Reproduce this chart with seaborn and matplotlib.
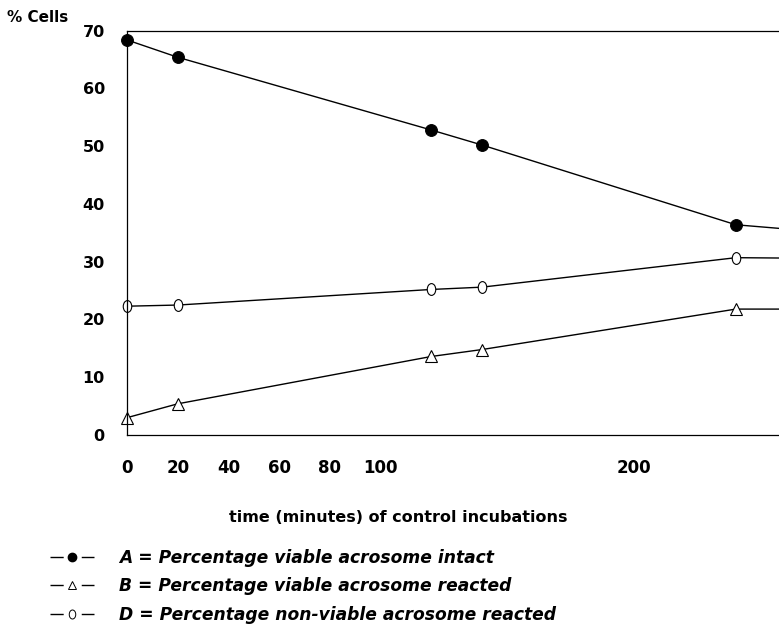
import numpy as np
import pandas as pd
import matplotlib
matplotlib.use("Agg")
import matplotlib.pyplot as plt
from matplotlib.lines import Line2D
from matplotlib.path import Path
from matplotlib.transforms import Affine2D
from matplotlib.ticker import FixedLocator, FixedFormatter
import seaborn as sns

# ---- data ----
time_min = [0, 20, 120, 140, 240, 270]
A_intact = [68.4, 65.4, 52.8, 50.2, 36.4, 35.3]
B_reacted = [3.0, 5.4, 13.6, 14.8, 21.8, 21.8]
D_nonviable = [22.3, 22.5, 25.2, 25.6, 30.7, 30.6]

x_ticks = [0, 20, 40, 60, 80, 100, 120, 140, 160, 180, 200, 220, 240]
x_tick_labels = ["0", "20", "40", "60", "80", "100", "", "", "", "", "200", "", ""]
y_ticks = [0, 10, 20, 30, 40, 50, 60, 70]

legend_labels = [
    "A = Percentage viable acrosome intact",
    "B = Percentage viable acrosome reacted",
    "D = Percentage non-viable acrosome reacted",
]

df = pd.DataFrame({
    "time": time_min * 3,
    "value": A_intact + B_reacted + D_nonviable,
    "series": ["A"] * len(time_min) + ["B"] * len(time_min) + ["D"] * len(time_min),
})

sns.set_theme(style="white")
plt.rcParams["font.family"] = ["DejaVu Sans"]
plt.rcParams["text.color"] = "black"
plt.rcParams["xtick.color"] = "black"
plt.rcParams["ytick.color"] = "black"
plt.rcParams["axes.labelcolor"] = "black"

W, H = 779, 635
fig = plt.figure(figsize=(W / 100, H / 100), dpi=100)
ax = fig.add_axes([127 / W, 1 - 435 / H, (W - 127) / W, (435 - 30.7) / H])

ellipse = Path.unit_circle().transformed(Affine2D().scale(0.72, 1.0))

styles = {
    "A": dict(marker="o", markersize=8.5, markerfacecolor="black", markeredgecolor="black"),
    "B": dict(marker="^", markersize=8, markerfacecolor="white", markeredgecolor="black", markeredgewidth=0.8),
    "D": dict(marker=ellipse, markersize=8.5, markerfacecolor="white", markeredgecolor="black", markeredgewidth=0.8),
}
for key in ["A", "B", "D"]:
    sub = df[df["series"] == key]
    sns.lineplot(data=sub, x="time", y="value", ax=ax, color="black", linewidth=1.0,
                 legend=False, **styles[key])

ax.set_xlim(0, 257)
ax.set_ylim(0, 70)
ax.xaxis.set_major_locator(FixedLocator(x_ticks))
ax.xaxis.set_major_formatter(FixedFormatter(x_tick_labels))
ax.set_yticks(y_ticks)
ax.set_yticklabels([str(v) for v in y_ticks])
ax.tick_params(axis="x", direction="in", length=6, width=0.8, color="black",
               labelcolor="black", labelsize=12, pad=17)
ax.tick_params(axis="y", direction="in", length=4, width=0.8, color="black",
               labelcolor="black", labelsize=11.5, pad=16)
for lab in ax.get_xticklabels() + ax.get_yticklabels():
    lab.set_fontweight("bold")
ax.set_xlabel("")
ax.set_ylabel("")
for s in ["left", "bottom", "top"]:
    ax.spines[s].set_visible(True)
    ax.spines[s].set_color("black")
    ax.spines[s].set_linewidth(0.9)
ax.spines["right"].set_visible(False)

# keep the markers sitting on the y axis whole (the frame ends at the figure edge)
for ln in ax.lines:
    ln.set_clip_on(False)

fig.text(7 / W, 1 - 18 / H, "% Cells", fontsize=11, fontweight="bold", va="center",
         ha="left", color="black")
fig.text(398 / W, 1 - 517 / H, "time (minutes) of control incubations", fontsize=11.5,
         fontweight="bold", va="center", ha="center", color="black")

handles = [
    Line2D([], [], color="black", linewidth=1.0, dashes=(9.5, 13), marker="o", markersize=6,
           markerfacecolor="black", markeredgecolor="black"),
    Line2D([], [], color="black", linewidth=1.0, dashes=(9.5, 13), marker="^", markersize=6,
           markerfacecolor="white", markeredgecolor="black", markeredgewidth=0.7),
    Line2D([], [], color="black", linewidth=1.0, dashes=(9.5, 13), marker=ellipse, markersize=6.5,
           markerfacecolor="white", markeredgecolor="black", markeredgewidth=0.7),
]
fs = 12.3
leg = fig.legend(handles, legend_labels, loc="upper left",
                 bbox_to_anchor=(50 / W, 1 - 549 / H), frameon=False,
                 borderpad=0, borderaxespad=0, handlelength=32 / fs,
                 handletextpad=25 / 1.39 / fs, labelspacing=0.6,
                 prop=dict(family="DejaVu Sans", size=fs, weight="bold", style="italic"))
for t in leg.get_texts():
    t.set_color("black")

fig.savefig("out.png", dpi=100, facecolor="white")
